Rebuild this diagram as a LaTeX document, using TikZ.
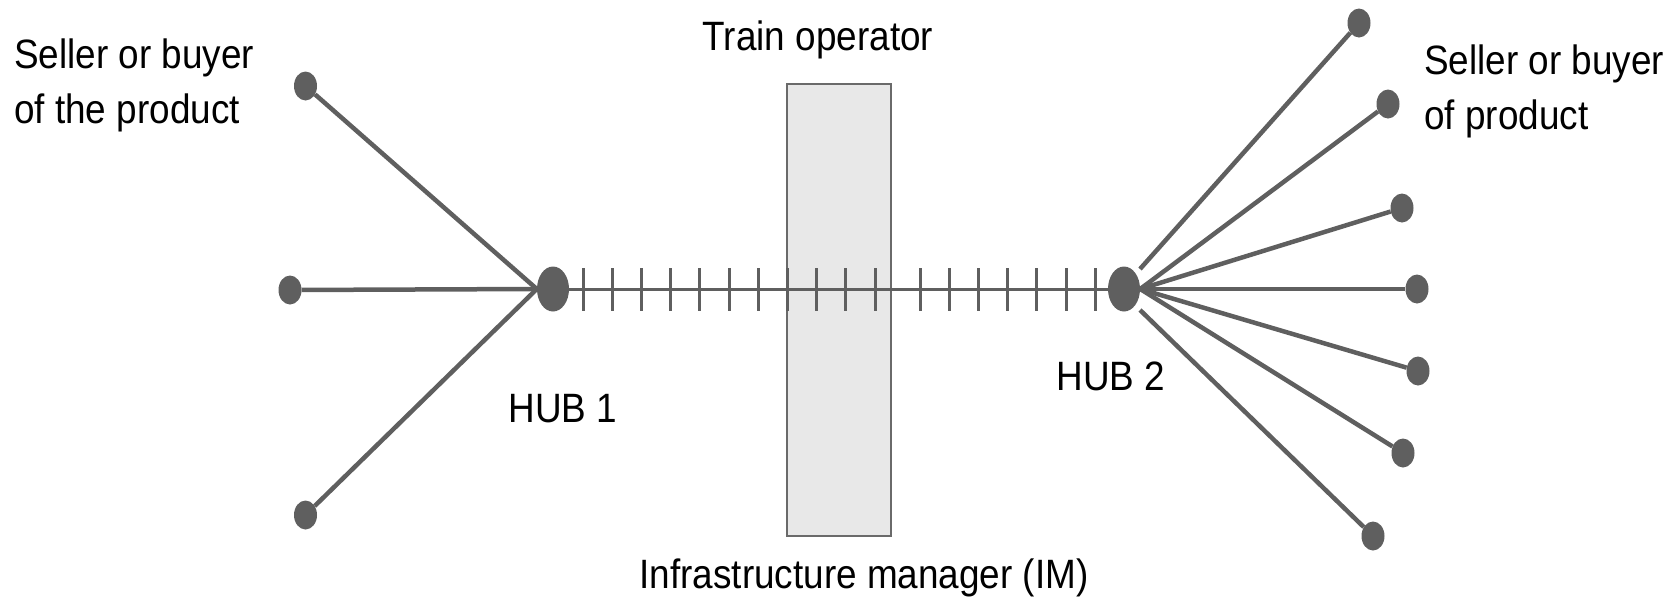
\documentclass[tikz,border=0pt]{standalone}
\usepackage{fontspec}
\setmainfont{Liberation Sans}[FakeStretch=0.9]
\usetikzlibrary{shapes.geometric}
\definecolor{ink}{HTML}{5F5F5F}
\definecolor{boxfill}{HTML}{E8E8E8}
\definecolor{boxline}{HTML}{6A6A6A}

\begin{document}
\begin{tikzpicture}[x=1pt,y=-1pt,
  dot/.style={ellipse,fill=ink,inner sep=0pt,minimum width=23pt,minimum height=29pt},
  hub/.style={ellipse,fill=ink,inner sep=0pt,minimum width=32pt,minimum height=45pt},
  spoke/.style={draw=ink,line width=4.5pt},
  rail/.style={draw=ink,line width=3pt},
  tick/.style={draw=ink,line width=3pt},
  zone/.style={draw=boxline,fill=boxfill,line width=1.5pt,inner sep=0pt,
               minimum width=104pt,minimum height=452pt},
  txt/.style={font=\fontsize{41}{55}\selectfont,inner sep=0pt,text=black},
]
\useasboundingbox (0,0) rectangle (1679,598);

% operator zone crossing the line
\node[zone] (zone) at (839,310) {};

% hubs
\node[hub] (hub1) at (553,289) {};
\node[hub] (hub2) at (1124,289) {};

% rail line with sleepers
\draw[rail] (hub1.east) -- (hub2.west);
\foreach \x in {583,612.2,641.4,670.6,699.8,729,758.2,787.4,816.6,845.8,875,
                920,949.2,978.4,1007.6,1036.8,1066,1095.2}
  \draw[tick] (\x,268) -- (\x,311);

% customers around hub 1
\node[dot] (L1) at (305.5,86) {};
\node[dot] (L2) at (290,290) {};
\node[dot] (L3) at (305.5,515) {};
\foreach \n in {L1,L2,L3}
  \draw[spoke] (hub1.west) -- (\n);

% customers around hub 2
\node[dot] (R1) at (1359,23) {};
\node[dot] (R2) at (1388,104) {};
\node[dot] (R3) at (1402,208) {};
\node[dot] (R4) at (1417,289) {};
\node[dot] (R5) at (1418,371) {};
\node[dot] (R6) at (1403,453) {};
\node[dot] (R7) at (1373,536) {};
\foreach \n in {R2,R3,R4,R5,R6}
  \draw[spoke] (hub2.east) -- (\n);
\coordinate (r1s) at (1140,269);
\coordinate (r7s) at (1140,310);
\draw[spoke] (r1s) -- (R1);
\draw[spoke] (r7s) -- (R7);

% labels
\node[txt,anchor=base] (train) at (818,50) {Train operator};
\node[txt,anchor=base] (im) at (864,588) {Infrastructure manager (IM)};
\node[txt,anchor=base] (h1lab) at (563,422) {HUB 1};
\node[txt,anchor=base] (h2lab) at (1111,390) {HUB 2};
\node[txt,anchor=west,align=left] (sellL) at (14,85) {Seller or buyer\\of the product};
\node[txt,anchor=west,align=left] (sellR) at (1424,91) {Seller or buyer\\of product};
\end{tikzpicture}
\end{document}
